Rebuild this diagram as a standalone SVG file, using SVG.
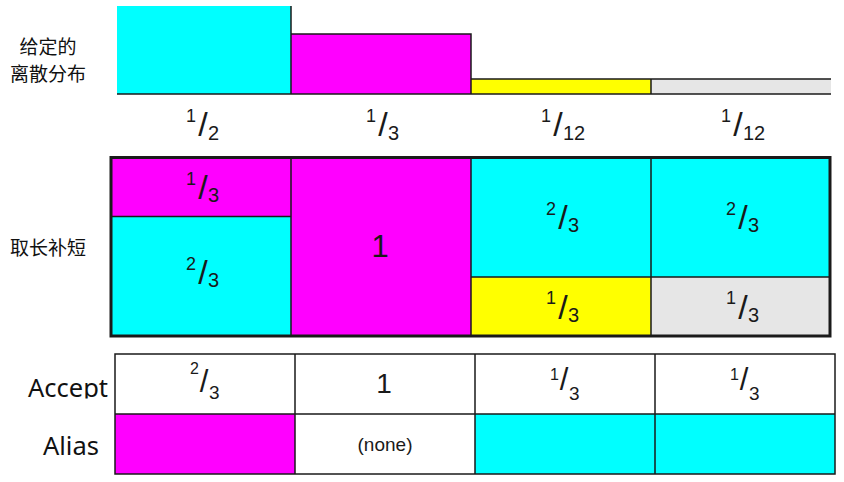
<svg xmlns="http://www.w3.org/2000/svg" width="844" height="482" viewBox="0 0 844 482">
<defs>
<style>
.c{fill:#00FFFF}.m{fill:#FF00FF}.y{fill:#FFFF00}.g{fill:#E6E6E6}.w{fill:#FFFFFF}
.ln{stroke:#1a1a1a;stroke-width:1.5;fill:none}
.thick{stroke:#1a1a1a;stroke-width:3;fill:none}
.cjk{font-family:"Noto Sans CJK SC",sans-serif;font-size:19px;fill:#111;text-anchor:middle}
.lab{font-family:"Noto Sans","Liberation Sans",sans-serif;font-size:25.5px;fill:#111}
.fr{font-family:"Liberation Sans",Arial,sans-serif;fill:#1a1a1a}
.n{font-size:18px;text-anchor:end}
.s{font-size:34px;text-anchor:middle}
.d{font-size:20px;text-anchor:start}
.n2{font-size:16px;text-anchor:end}
.s2{font-size:31px;text-anchor:middle}
.d2{font-size:19px;text-anchor:start}
.big{font-family:"Liberation Sans",Arial,sans-serif;fill:#1a1a1a;text-anchor:middle}
</style>
<clipPath id="clipAccept"><rect x="0" y="360" width="115" height="38.5"/></clipPath>
</defs>
<rect width="844" height="482" fill="#FFFFFF"/>

<g id="labels">
<text class="cjk" x="48" y="54">给定的</text>
<text class="cjk" x="48" y="80.5">离散分布</text>
<text class="cjk" x="48" y="255" font-size="20">取长补短</text>
<text class="lab" x="28" y="397" clip-path="url(#clipAccept)">Accept</text>
<text class="lab" x="43" y="455">Alias</text>
</g>

<g id="distribution">
<rect class="c" x="117" y="6" width="174" height="88"/>
<rect class="m" x="291" y="34" width="180" height="60"/>
<rect class="y" x="471" y="79" width="180" height="15"/>
<rect class="g" x="651" y="79" width="180" height="15"/>
<path class="ln" d="M291,6 V94 M291,34 H471 V94 M471,79 H831 M651,79 V94"/>
<path class="ln" d="M117,94 H831" stroke-width="2"/>
<g class="fr"><text class="n" x="196" y="122">1</text><text class="s" x="203" y="136">/</text><text class="d" x="208" y="140">2</text></g>
<g class="fr"><text class="n" x="376" y="122">1</text><text class="s" x="383" y="136">/</text><text class="d" x="388" y="140">3</text></g>
<g class="fr"><text class="n" x="551" y="122">1</text><text class="s" x="558" y="136">/</text><text class="d" x="563" y="140">12</text></g>
<g class="fr"><text class="n" x="731" y="122">1</text><text class="s" x="738" y="136">/</text><text class="d" x="743" y="140">12</text></g>
</g>

<g id="robin-hood">
<rect class="m" x="110" y="157" width="181" height="59"/>
<rect class="c" x="110" y="216" width="181" height="120"/>
<rect class="m" x="291" y="157" width="180" height="179"/>
<rect class="c" x="471" y="157" width="360" height="120"/>
<rect class="y" x="471" y="277" width="180" height="59"/>
<rect class="g" x="651" y="277" width="180" height="59"/>
<path class="ln" d="M110,216.5 H291 M291,157 V336 M471,157 V336 M651,157 V336 M471,277 H830"/>
<rect class="thick" x="111" y="157.5" width="719" height="178.5"/>
<g class="fr"><text class="n" x="196" y="185">1</text><text class="s" x="203" y="199">/</text><text class="d" x="208" y="202">3</text></g>
<g class="fr"><text class="n" x="196" y="270">2</text><text class="s" x="203" y="284">/</text><text class="d" x="208" y="287">3</text></g>
<text class="big" x="380" y="257" font-size="31">1</text>
<g class="fr"><text class="n" x="556" y="215">2</text><text class="s" x="563" y="229">/</text><text class="d" x="568" y="232">3</text></g>
<g class="fr"><text class="n" x="736" y="215">2</text><text class="s" x="743" y="229">/</text><text class="d" x="748" y="232">3</text></g>
<g class="fr"><text class="n" x="556" y="304">1</text><text class="s" x="563" y="319">/</text><text class="d" x="568" y="322">3</text></g>
<g class="fr"><text class="n" x="736" y="304">1</text><text class="s" x="743" y="319">/</text><text class="d" x="748" y="322">3</text></g>
</g>

<g id="table">
<rect class="w" x="115" y="354" width="720" height="60"/>
<rect class="m" x="115" y="414" width="180" height="60"/>
<rect class="w" x="295" y="414" width="180" height="60"/>
<rect class="c" x="475" y="414" width="360" height="60"/>
<path class="ln" d="M115,414 H835 M295,354 V474 M475,354 V474 M655,354 V474"/>
<rect class="ln" x="115" y="354" width="720" height="120"/>
<g class="fr"><text class="n2" x="199" y="374">2</text><text class="s2" x="204" y="392">/</text><text class="d2" x="209" y="399">3</text></g>
<text class="big" x="384" y="393" font-size="28">1</text>
<g class="fr"><text class="n2" x="559" y="380">1</text><text class="s2" x="564" y="390">/</text><text class="d2" x="569" y="400">3</text></g>
<g class="fr"><text class="n2" x="739" y="380">1</text><text class="s2" x="744" y="390">/</text><text class="d2" x="749" y="400">3</text></g>
<text class="big" x="385" y="451" font-size="19">(none)</text>
</g>
</svg>
